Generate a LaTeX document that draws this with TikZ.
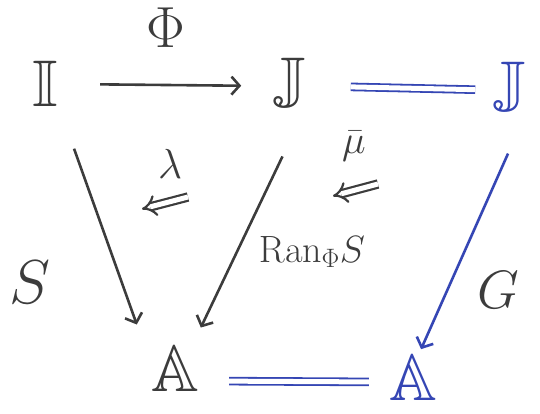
\RequirePackage{fix-cm}
\documentclass[tikz,border=0pt]{standalone}
\usepackage{amssymb}
\usetikzlibrary{arrows.meta,positioning}
\definecolor{penink}{HTML}{3C3C3C}
\definecolor{penblue}{HTML}{3546B4}
\tikzset{
  diag/.style={line width=2.6pt, draw=penink, text=penink,
    >={Straight Barb[length=8pt,width=18pt,line width=2.6pt]}},
  obj/.style={inner sep=3pt, font=\fontsize{66}{70}\selectfont},
  bobj/.style={obj, text=penblue},
  lbl/.style={inner sep=0pt, font=\fontsize{50}{54}\selectfont},
  map/.style={->, draw=penink},
  gmap/.style={->, draw=penblue},
  eqline/.style={draw=penblue, double=white, double distance=5pt, line width=1.8pt},
  cell/.style={-{Implies[length=7pt]}, draw=penink, double, double distance=5pt,
    line width=2.2pt},
}
\begin{document}
\begin{tikzpicture}[diag,x=1pt,y=1pt]
  % page matches the 540 x 414 sketch
  \path[use as bounding box] (0,0) rectangle (540,-414);

  % ---------------- objects ----------------
  \node[obj] (I) at (45,-84) {$\mathbb{I}$};
  \node[obj] (J) at (290,-86) {$\mathbb{J}$};
  \node[bobj] (J2) at (510,-90) {$\mathbb{J}$};
  \node[obj] (A) at (175,-369) {$\mathbb{A}$};
  \node[bobj] (A2) at (413,-378) {$\mathbb{A}$};

  % ---------------- top row ----------------
  \draw[map,shorten <=38pt,shorten >=28pt] (I.east) --
    node[lbl,above=36pt,font=\fontsize{58}{62}\selectfont] (phi) {$\Phi$} (J.west);
  \draw[eqline,shorten <=40pt,shorten >=14pt] (J.east) -- (J2.west);

  % ---------------- legs into A ----------------
  \draw[map,shorten <=40pt,shorten >=30pt] (I.-60) -- (A.150);
  \node[lbl,font=\fontsize{62}{66}\selectfont] (S) at (30,-282) {$S$};
  \draw[map,shorten <=42pt,shorten >=16pt] (J.-72) -- (A.55);
  \node[lbl,font=\fontsize{38}{42}\selectfont] (ran) at (312,-252) {$\mathrm{Ran}_{\Phi} S$};
  \draw[gmap,shorten <=34pt,shorten >=2pt] (J2.-70) -- (A2.75);
  \node[lbl,font=\fontsize{54}{58}\selectfont] (G) at (498,-290) {$G$};
  \draw[eqline,shorten <=26pt,shorten >=16pt]
    ([yshift=-12pt]A.east) -- ([yshift=-4pt]A2.west);

  % ---------------- 2-cells ----------------
  \coordinate (lamR) at (188,-197);
  \coordinate (lamL) at (142,-209);
  \draw[cell] (lamR) -- (lamL);
  \node[lbl,font=\fontsize{42}{46}\selectfont] (lam) at (170,-164) {$\lambda$};
  \coordinate (muR) at (378,-184);
  \coordinate (muL) at (333,-196);
  \draw[cell] (muR) -- (muL);
  \node[lbl,font=\fontsize{40}{44}\selectfont] (mu) at (354,-146) {$\bar{\mu}$};
\end{tikzpicture}
\end{document}
